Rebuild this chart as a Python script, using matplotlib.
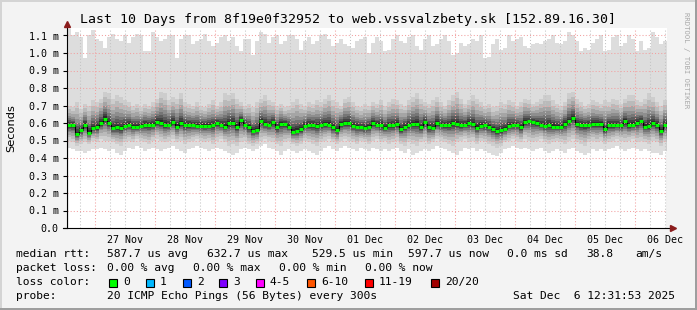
import numpy as np
import pandas as pd
import matplotlib
matplotlib.use("Agg")
import matplotlib.pyplot as plt
import matplotlib.dates as mdates
from matplotlib.patches import Rectangle

# smokeping data, 96 min per column, values in ms
median = [0.587, 0.587, 0.535, 0.56, 0.59, 0.545, 0.57, 0.575, 0.60, 0.625,
          0.60, 0.57, 0.575, 0.57, 0.585, 0.59, 0.58, 0.58, 0.585, 0.59,
          0.59, 0.59, 0.605, 0.60, 0.59, 0.59, 0.605, 0.58, 0.60, 0.59,
          0.59, 0.59, 0.585, 0.585, 0.585, 0.585, 0.587, 0.60, 0.59, 0.58,
          0.60, 0.60, 0.58, 0.615, 0.59, 0.575, 0.555, 0.56, 0.61, 0.595,
          0.59, 0.605, 0.575, 0.595, 0.595, 0.58, 0.55, 0.555, 0.565, 0.585,
          0.59, 0.59, 0.585, 0.59, 0.595, 0.59, 0.575, 0.56, 0.595, 0.60,
          0.60, 0.585, 0.58, 0.575, 0.57, 0.58, 0.60, 0.59, 0.587, 0.573,
          0.587, 0.587, 0.595, 0.565, 0.58, 0.59, 0.595, 0.595, 0.575, 0.605,
          0.575, 0.573, 0.60, 0.59, 0.59, 0.59, 0.60, 0.595, 0.587, 0.59,
          0.60, 0.595, 0.573, 0.585, 0.587, 0.58, 0.565, 0.555, 0.558, 0.565,
          0.585, 0.587, 0.59, 0.575, 0.605, 0.61, 0.605, 0.60, 0.59, 0.585,
          0.587, 0.58, 0.58, 0.58, 0.595, 0.61, 0.63, 0.595, 0.59, 0.587,
          0.59, 0.595, 0.595, 0.595, 0.565, 0.59, 0.587, 0.59, 0.587, 0.61,
          0.587, 0.59, 0.60, 0.61, 0.58, 0.585, 0.60, 0.59, 0.555, 0.59]

ping_max = [1.14, 1.10, 1.12, 1.09, 0.97, 1.10, 1.13, 1.08, 1.07, 1.03,
            1.09, 1.11, 1.08, 1.07, 1.10, 1.06, 1.09, 1.11, 1.10, 1.01,
            1.01, 1.12, 1.09, 1.07, 1.08, 1.10, 1.10, 0.97, 1.08, 1.10,
            1.10, 1.05, 1.07, 1.08, 1.11, 1.07, 1.04, 1.06, 1.09, 1.10,
            1.07, 1.09, 1.04, 1.01, 1.08, 1.08, 0.99, 1.07, 1.12, 1.11,
            1.06, 1.09, 1.10, 1.05, 1.07, 1.10, 1.10, 1.08, 1.02, 1.07,
            1.09, 1.05, 1.07, 1.10, 1.11, 1.08, 1.04, 1.06, 1.08, 1.05,
            1.04, 1.03, 1.07, 1.08, 1.09, 1.00, 1.06, 1.09, 1.07, 1.01,
            1.02, 1.08, 1.10, 1.07, 1.06, 1.09, 1.10, 1.04, 1.02, 1.08,
            1.10, 1.04, 1.05, 1.08, 1.10, 1.07, 0.99, 1.00, 1.06, 1.04,
            1.05, 1.08, 1.07, 1.10, 0.97, 0.98, 1.05, 1.08, 1.02, 1.03,
            1.10, 1.07, 1.08, 1.09, 1.04, 1.03, 1.05, 1.06, 1.05, 1.07,
            1.08, 1.10, 1.06, 1.05, 1.07, 1.12, 1.10, 1.07, 1.01, 1.03,
            1.02, 1.06, 1.08, 1.10, 1.01, 1.02, 1.09, 1.10, 1.04, 1.06,
            1.10, 1.08, 1.01, 1.07, 1.02, 1.03, 1.12, 1.09, 1.05, 1.07]

smoke_top = [0.70, 0.69, 0.72, 0.68, 0.71, 0.70, 0.73, 0.72, 0.74, 0.78,
             0.77, 0.74, 0.76, 0.75, 0.73, 0.72, 0.70, 0.71, 0.69, 0.71,
             0.70, 0.72, 0.74, 0.78, 0.77, 0.73, 0.75, 0.74, 0.77, 0.72,
             0.71, 0.70, 0.72, 0.70, 0.69, 0.71, 0.73, 0.70, 0.72, 0.77,
             0.76, 0.77, 0.74, 0.72, 0.70, 0.71, 0.69, 0.72, 0.74, 0.76,
             0.73, 0.72, 0.70, 0.71, 0.69, 0.70, 0.72, 0.74, 0.71, 0.70,
             0.72, 0.71, 0.73, 0.72, 0.74, 0.76, 0.73, 0.72, 0.70, 0.74,
             0.75, 0.72, 0.70, 0.69, 0.71, 0.70, 0.72, 0.71, 0.73, 0.70,
             0.72, 0.74, 0.73, 0.71, 0.70, 0.73, 0.75, 0.77, 0.74, 0.72,
             0.71, 0.73, 0.75, 0.72, 0.70, 0.73, 0.76, 0.78, 0.74, 0.71,
             0.73, 0.76, 0.74, 0.72, 0.70, 0.71, 0.69, 0.70, 0.72, 0.71,
             0.73, 0.72, 0.70, 0.72, 0.74, 0.73, 0.71, 0.72, 0.74, 0.76,
             0.76, 0.73, 0.71, 0.70, 0.72, 0.77, 0.78, 0.74, 0.72, 0.70,
             0.71, 0.73, 0.72, 0.71, 0.73, 0.72, 0.74, 0.73, 0.71, 0.74,
             0.76, 0.76, 0.73, 0.72, 0.74, 0.77, 0.75, 0.72, 0.70, 0.73]

smoke_bottom = [0.50, 0.49, 0.47, 0.48, 0.49, 0.48, 0.50, 0.49, 0.51, 0.50,
                0.50, 0.49, 0.48, 0.47, 0.49, 0.50, 0.49, 0.51, 0.50, 0.49,
                0.48, 0.50, 0.51, 0.50, 0.49, 0.50, 0.51, 0.49, 0.50, 0.48,
                0.49, 0.50, 0.51, 0.50, 0.49, 0.50, 0.48, 0.50, 0.51, 0.49,
                0.47, 0.48, 0.47, 0.49, 0.50, 0.48, 0.47, 0.48, 0.50, 0.51,
                0.50, 0.49, 0.48, 0.47, 0.49, 0.50, 0.48, 0.47, 0.48, 0.50,
                0.49, 0.48, 0.47, 0.49, 0.50, 0.51, 0.49, 0.48, 0.50, 0.51,
                0.50, 0.49, 0.48, 0.50, 0.49, 0.48, 0.50, 0.51, 0.49, 0.50,
                0.48, 0.49, 0.50, 0.48, 0.47, 0.49, 0.48, 0.47, 0.49, 0.50,
                0.48, 0.49, 0.51, 0.50, 0.49, 0.48, 0.47, 0.49, 0.50, 0.51,
                0.49, 0.50, 0.48, 0.50, 0.49, 0.48, 0.47, 0.46, 0.47, 0.49,
                0.50, 0.51, 0.50, 0.49, 0.51, 0.50, 0.49, 0.50, 0.51, 0.49,
                0.48, 0.49, 0.50, 0.49, 0.48, 0.50, 0.51, 0.49, 0.48, 0.47,
                0.49, 0.50, 0.49, 0.50, 0.48, 0.49, 0.50, 0.51, 0.50, 0.49,
                0.50, 0.51, 0.49, 0.50, 0.49, 0.48, 0.50, 0.49, 0.47, 0.49]

ping_min = [0.46, 0.45, 0.44, 0.44, 0.43, 0.44, 0.45, 0.45, 0.46, 0.45,
            0.44, 0.45, 0.43, 0.42, 0.44, 0.46, 0.45, 0.47, 0.46, 0.44,
            0.45, 0.46, 0.45, 0.44, 0.45, 0.46, 0.47, 0.45, 0.44, 0.43,
            0.45, 0.46, 0.47, 0.46, 0.45, 0.44, 0.45, 0.46, 0.45, 0.44,
            0.43, 0.42, 0.43, 0.45, 0.46, 0.45, 0.44, 0.45, 0.47, 0.48,
            0.46, 0.45, 0.44, 0.42, 0.44, 0.45, 0.44, 0.43, 0.44, 0.45,
            0.44, 0.43, 0.42, 0.44, 0.46, 0.47, 0.45, 0.44, 0.46, 0.47,
            0.46, 0.45, 0.44, 0.46, 0.45, 0.44, 0.46, 0.45, 0.44, 0.45,
            0.44, 0.45, 0.46, 0.44, 0.43, 0.45, 0.42, 0.43, 0.44, 0.45,
            0.44, 0.45, 0.47, 0.46, 0.45, 0.44, 0.43, 0.42, 0.44, 0.46,
            0.45, 0.46, 0.44, 0.45, 0.44, 0.43, 0.42, 0.41, 0.43, 0.45,
            0.46, 0.47, 0.46, 0.45, 0.46, 0.45, 0.44, 0.45, 0.46, 0.44,
            0.43, 0.44, 0.45, 0.44, 0.43, 0.45, 0.46, 0.44, 0.43, 0.42,
            0.43, 0.45, 0.44, 0.45, 0.44, 0.45, 0.46, 0.47, 0.45, 0.44,
            0.45, 0.46, 0.45, 0.44, 0.45, 0.44, 0.43, 0.43, 0.42, 0.44]

day_labels = ["27 Nov", "28 Nov", "29 Nov", "30 Nov", "01 Dec",
              "02 Dec", "03 Dec", "04 Dec", "05 Dec", "06 Dec"]

loss_names = ["0", "1", "2", "3", "4-5", "6-10", "11-19", "20/20"]
loss_colors = ["#00ff00", "#00b8ff", "#0059ff", "#7e00ff",
               "#ff00ff", "#ff5500", "#ff0000", "#a10000"]

title = "Last 10 Days from 8f19e0f32952 to web.vssvalzbety.sk [152.89.16.30]"

W, H = 697, 310
MONO = "DejaVu Sans Mono"
plt.rcParams["font.family"] = MONO


def fx(px):
    return px / W


def fy(py):
    return 1 - py / H


fig = plt.figure(figsize=(W / 100, H / 100), dpi=100, facecolor="#f3f3f3")
ax = fig.add_axes([fx(66.5), fy(228), 600 / W, 200 / H])
ax.set_facecolor("white")

t_end = pd.Timestamp("2025-12-06 12:31:53")
t_start = t_end - pd.Timedelta(days=10)
edges = mdates.date2num(pd.date_range(t_start, t_end, periods=len(median) + 1).to_numpy())

med = np.array(median)
top = np.array(smoke_top)
bot = np.array(smoke_bottom)

# outer smoke: min..max ping
ax.stairs(ping_max, edges, baseline=ping_min, fill=True, color="#dddddd", lw=0, zorder=1)
# inner smoke, darker towards the median
fracs = [1.0, 0.8, 0.62, 0.47, 0.35, 0.25, 0.16, 0.08]
shades = ["#cdcdcd", "#bababa", "#a5a5a5", "#8e8e8e", "#767676", "#5c5c5c", "#434343", "#2b2b2b"]
for f, c in zip(fracs, shades):
    ax.stairs(med + (top - med) * f, edges, baseline=med - (med - bot) * f,
              fill=True, color=c, lw=0, zorder=1)

# median rtt, coloured by loss (all 0 here)
ax.stairs(med, edges, color="black", lw=0.8, zorder=5)
ax.hlines(med, edges[:-1], edges[1:], color=loss_colors[0], lw=2.2, zorder=6)

ax.set_xlim(edges[0], edges[-1])
ax.set_ylim(0, 200 / 175)

# grid
dots = (0, (1, 2))
midnights = pd.date_range("2025-11-27", "2025-12-06", freq="D")
six_h = pd.date_range("2025-11-26 18:00", "2025-12-06 12:00", freq="6h")
for t in six_h:
    if t.hour != 0:
        ax.axvline(mdates.date2num(t), color="#c4c4c4", lw=0.75, ls=dots, zorder=3)
for t in midnights:
    ax.axvline(mdates.date2num(t), color="#f2a0a0", lw=0.75, ls=dots, zorder=3)
yt = np.round(np.arange(0.1, 1.15, 0.1), 1)
for y in yt:
    ax.axhline(y, color="#f2a0a0", lw=0.75, ls=dots, zorder=3)

for s in ax.spines.values():
    s.set_visible(False)

noons = mdates.date2num((midnights + pd.Timedelta(hours=12)).to_numpy())
ax.set_xticks(noons)
ax.set_xticklabels(day_labels)
ax.tick_params(axis="x", length=0, pad=5, labelsize=7.2)

yticks = np.round(np.arange(0, 1.15, 0.1), 1)
ax.set_yticks(yticks)
ax.set_yticklabels(["0.0"] + ["%.1f m" % v for v in yticks[1:]])
ax.tick_params(axis="y", length=3, width=0.8, pad=2.5, labelsize=7.2)

# axis lines with arrows
ax.plot([0, 0], [0, 1.015], transform=ax.transAxes, color="black", lw=0.8, clip_on=False, zorder=7)
ax.plot([-0.006, 1.008], [0, 0], transform=ax.transAxes, color="black", lw=0.8, clip_on=False, zorder=7)
ax.plot([0], [1.02], marker="^", ms=4.5, color="#8b1c1c", transform=ax.transAxes, clip_on=False, zorder=8)
ax.plot([1.01], [0], marker=">", ms=4.5, color="#8b1c1c", transform=ax.transAxes, clip_on=False, zorder=8)

# texts
fig.text(fx(347.5), fy(19), title, ha="center", va="center", fontsize=9.5)
fig.text(fx(11), fy(128), "Seconds", rotation=90, ha="center", va="center",
         fontsize=8.2, family="DejaVu Sans")
fig.text(fx(686), fy(60), "RRDTOOL / TOBI OETIKER", rotation=270, ha="center", va="center",
         fontsize=5.2, color="#a8a8a8")

LS = 8.15
rows = [
    (254, [(16, "median rtt:"), (107, "587.7 us avg"), (207, "632.7 us max"),
           (312, "529.5 us min"), (408, "597.7 us now"), (507, "0.0 ms sd"),
           (586, "38.8"), (635, "am/s")]),
    (268, [(16, "packet loss:"), (107, "0.00 % avg"), (193, "0.00 % max"),
           (279, "0.00 % min"), (365, "0.00 % now")]),
    (282, [(16, "loss color:")]),
    (296, [(16, "probe:"), (107, "20 ICMP Echo Pings (56 Bytes) every 300s"),
           (513, "Sat Dec  6 12:31:53 2025")]),
]
for y, items in rows:
    for x, s in items:
        fig.text(fx(x), fy(y), s, ha="left", va="center", fontsize=LS)

box_x = [109, 146, 183, 219, 256, 307, 365, 431]
for bx, name, col in zip(box_x, loss_names, loss_colors):
    fig.add_artist(Rectangle((fx(bx), fy(286.5)), 8 / W, 8 / H, transform=fig.transFigure,
                             facecolor=col, edgecolor="black", lw=0.8))
    fig.text(fx(bx + 14), fy(282), name, ha="left", va="center", fontsize=LS)

# 3d frame
fig.add_artist(Rectangle((0, 1 - 2 / H), 1, 2 / H, transform=fig.transFigure, color="#d4d4d4", lw=0))
fig.add_artist(Rectangle((0, 0), 2 / W, 1, transform=fig.transFigure, color="#d4d4d4", lw=0))
fig.add_artist(Rectangle((0, 0), 1, 2 / H, transform=fig.transFigure, color="#9e9e9e", lw=0))
fig.add_artist(Rectangle((1 - 2 / W, 0), 2 / W, 1, transform=fig.transFigure, color="#9e9e9e", lw=0))

fig.savefig("out.png", dpi=100, facecolor=fig.get_facecolor())
